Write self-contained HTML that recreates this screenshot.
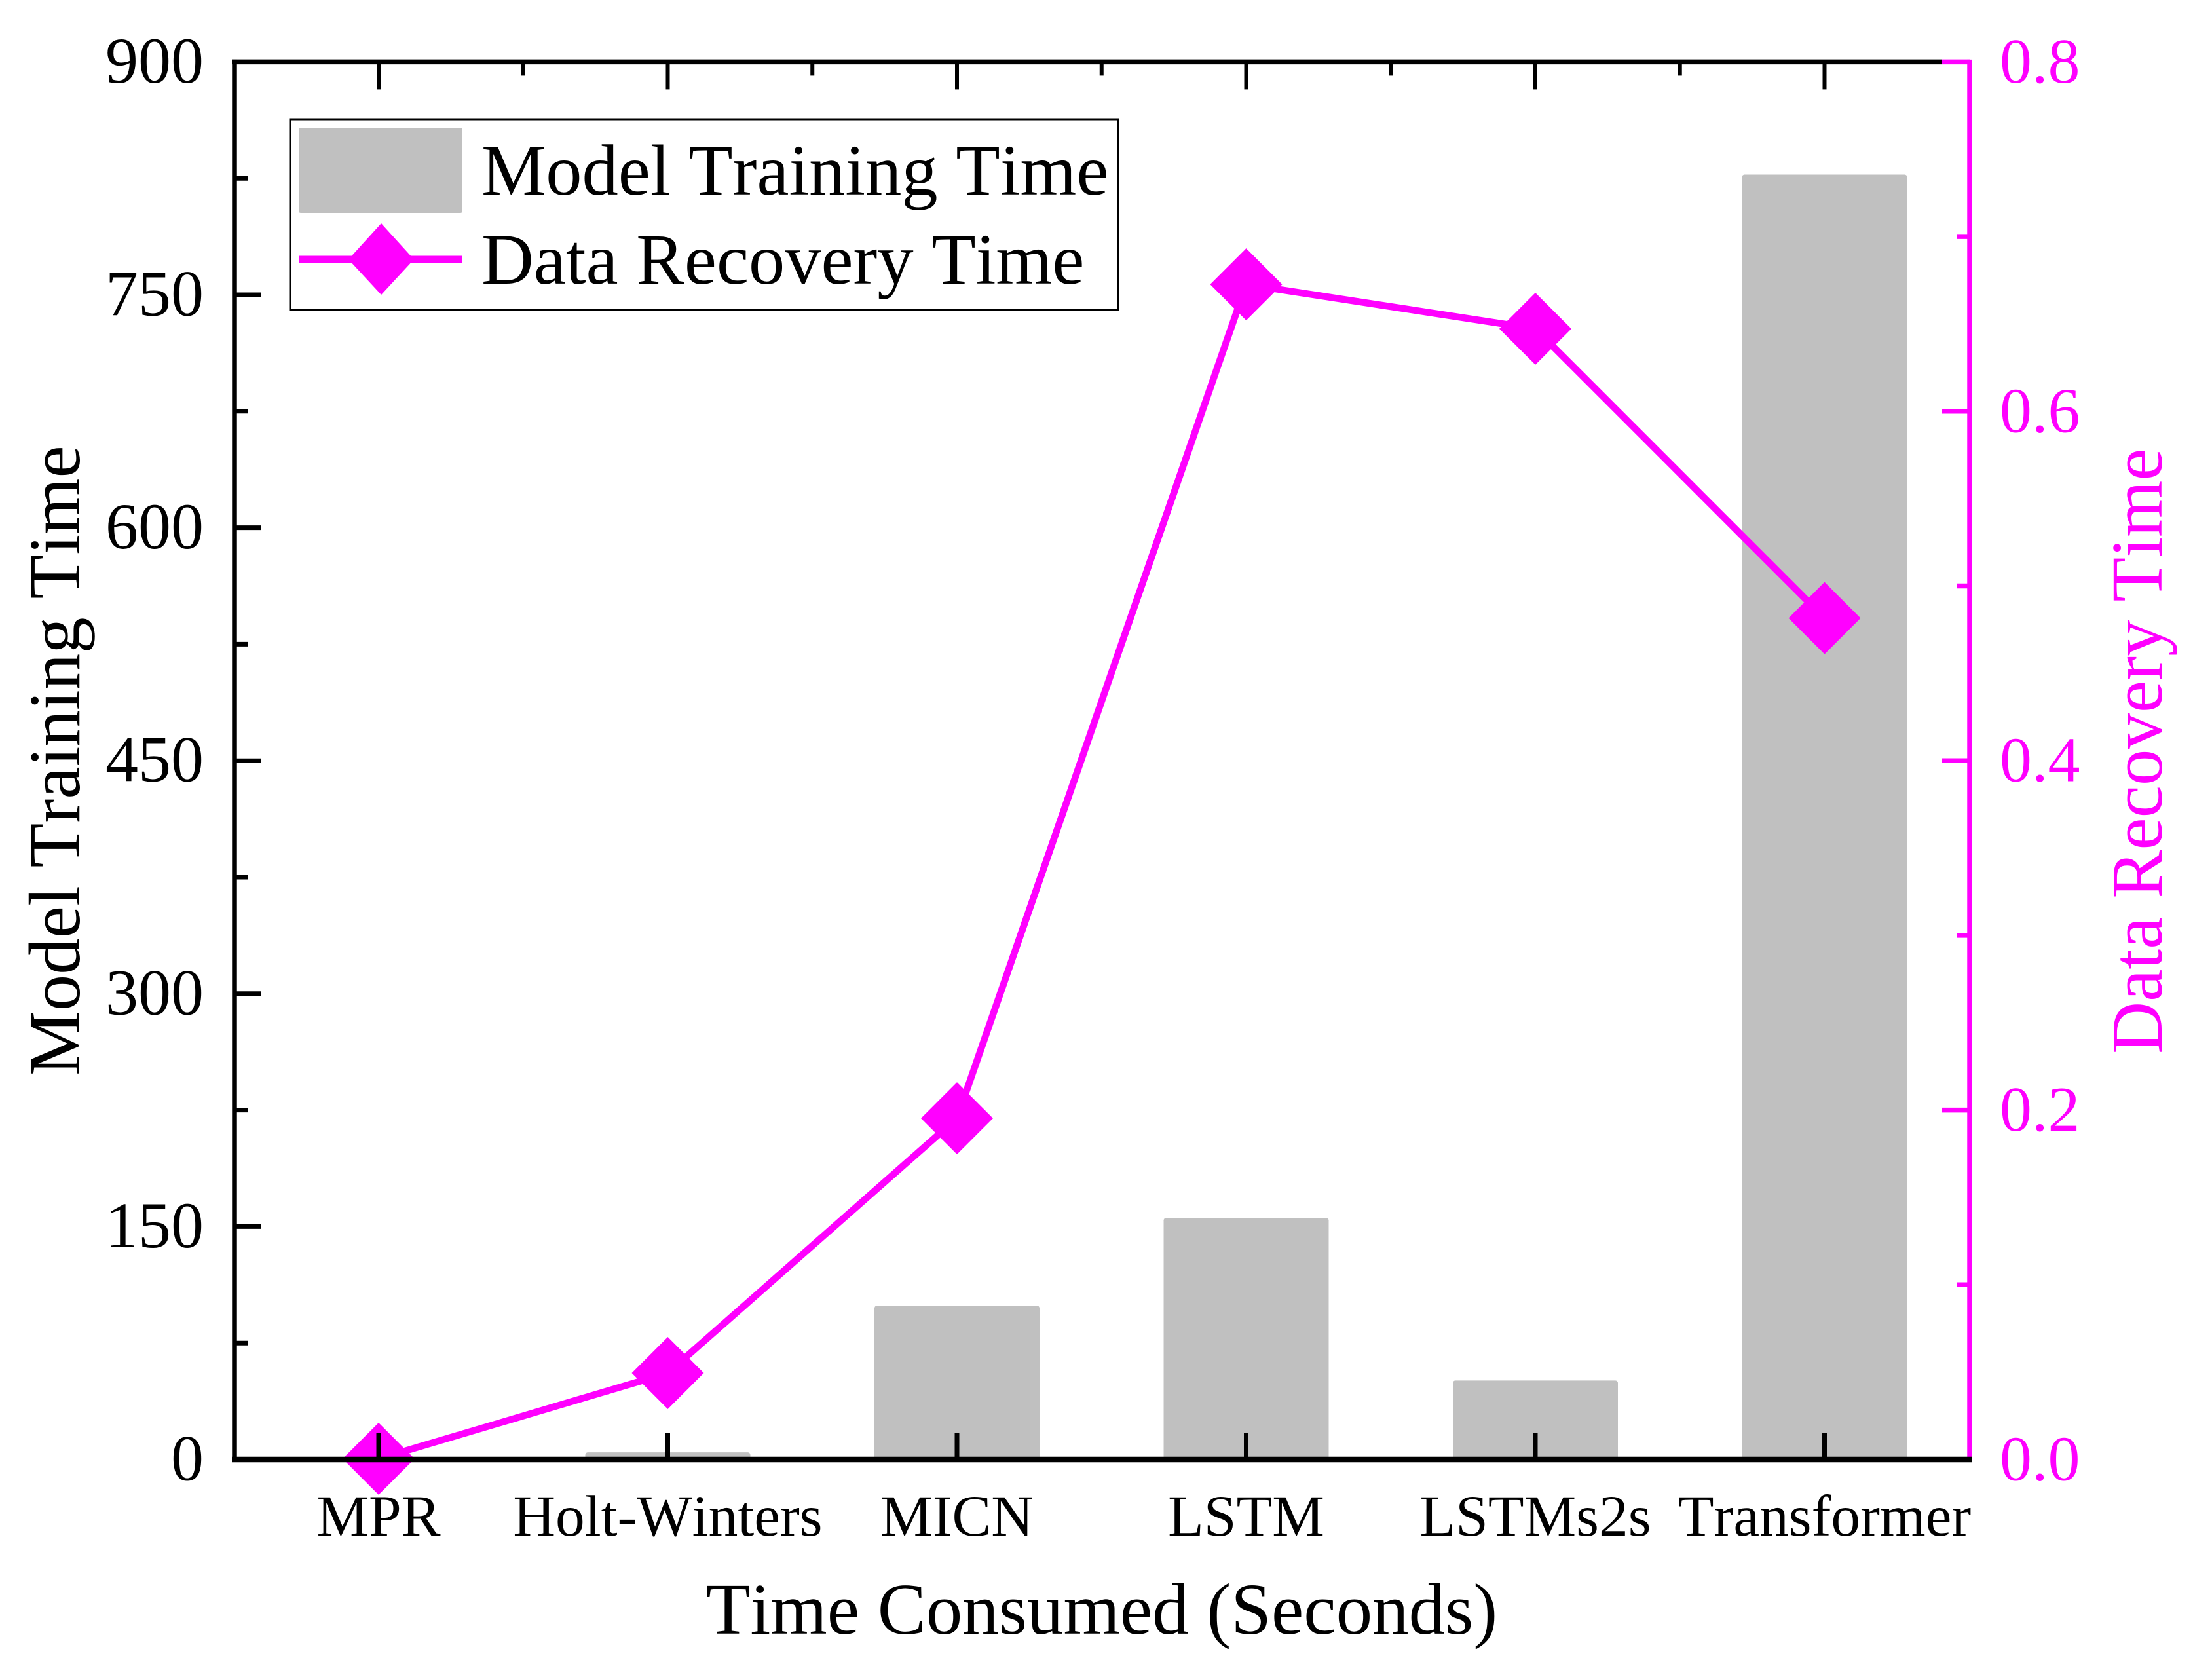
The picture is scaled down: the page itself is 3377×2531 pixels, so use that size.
<!DOCTYPE html>
<html lang="en">
<head>
<meta charset="utf-8">
<title>Model Training Time and Data Recovery Time</title>
<style>
html,body{margin:0;padding:0;background:#fff;}
svg{display:block;}
text{font-family:"Liberation Serif",serif;font-kerning:none;}
</style>
</head>
<body>
<svg id="chart" xmlns="http://www.w3.org/2000/svg" width="3377" height="2531" viewBox="0 0 3377 2531">
  <rect x="0" y="0" width="3377" height="2531" fill="#ffffff"/>
  <g id="bars"></g>
  <g id="series"></g>
  <g id="axes"></g>
  <g id="labels"></g>

  <text x="1682" y="2494" font-size="111" text-anchor="middle" fill="#000">Time Consumed (Seconds)</text>
  <text transform="translate(121,1642) rotate(-90)" font-size="111" fill="#000">Model Training Time</text>
  <text transform="translate(3300,1609) rotate(-90)" font-size="111" fill="#ff00ff">Data Recovery Time</text>

  <g>
    <rect x="443" y="182" width="1264" height="291" fill="#fff" stroke="#000" stroke-width="3"/>
    <rect x="456" y="195" width="250" height="130" rx="3" fill="#c0c0c0"/>
    <line x1="456" y1="396" x2="706" y2="396" stroke="#ff00ff" stroke-width="11"/>
    <polygon points="582,341 632,396 582,450 532,396" fill="#ff00ff"/>
    <text x="735" y="297" font-size="110.5" fill="#000">Model Training Time</text>
    <text x="735" y="433" font-size="110.5" fill="#000">Data Recovery Time</text>
  </g>
</svg>
<script>
const categories = ["MPR", "Holt-Winters", "MICN", "LSTM", "LSTMs2s", "Transformer"];
const trainingTimes = [1.5, 4.6, 99.1, 155.6, 50.9, 827.4];
const recoveryTimes = [0.0004, 0.0495, 0.1953, 0.6726, 0.6472, 0.4816];
const leftTickLabels = [0, 150, 300, 450, 600, 750, 900];
const leftMinorTicks = [75, 225, 375, 525, 675, 825];
const rightTickLabels = ["0.0", "0.2", "0.4", "0.6", "0.8"];
const rightMinorTicks = [0.1, 0.3, 0.5, 0.7];

const NS = "http://www.w3.org/2000/svg";
const plot = {left: 358, right: 3007, top: 94.4, bottom: 2228};
const leftMax = 900, rightMax = 0.8;
const firstX = 578, stepX = 441.5;
const barHalf = 126, markerRadius = 55;
const magenta = "#ff00ff", black = "#000000", grey = "#c0c0c0";

function xAt(i) { return firstX + stepX * i; }
function yLeft(v) { return plot.bottom - (v / leftMax) * (plot.bottom - plot.top); }
function yRight(v) { return plot.bottom - (v / rightMax) * (plot.bottom - plot.top); }

function make(tag, attrs, parent, txt) {
  const el = document.createElementNS(NS, tag);
  for (const k in attrs) el.setAttribute(k, attrs[k]);
  if (txt !== undefined) el.textContent = txt;
  parent.appendChild(el);
  return el;
}
function slug(s) { return String(s).toLowerCase().replace(/[^a-z0-9]+/g, "-"); }

const barsG = document.getElementById("bars");
const seriesG = document.getElementById("series");
const axesG = document.getElementById("axes");
const labelsG = document.getElementById("labels");

/* bars */
trainingTimes.forEach(function (v, i) {
  const top = yLeft(v);
  const el = make("rect", {x: xAt(i) - barHalf, y: top, width: barHalf * 2, height: plot.bottom - top, rx: 4, fill: grey}, barsG);
  
  
});

/* line */
const linePts = recoveryTimes.map(function (v, i) { return xAt(i) + "," + yRight(v); }).join(" ");
const polyline = make("polyline", {points: linePts, fill: "none", stroke: magenta, "stroke-width": 10.5, "stroke-linejoin": "round"}, seriesG);



/* markers */
recoveryTimes.forEach(function (v, i) {
  const cx = xAt(i), cy = yRight(v), r = markerRadius;
  const pts = [cx + "," + (cy - r), (cx + r) + "," + cy, cx + "," + (cy + r), (cx - r) + "," + cy].join(" ");
  const el = make("polygon", {points: pts, fill: magenta}, seriesG);
  
  
});

/* axis frame */
const topAxis = make("line", {x1: plot.left - 4, y1: plot.top, x2: plot.right - 42, y2: plot.top, stroke: black, "stroke-width": 7.5}, axesG);



const leftAxis = make("line", {x1: plot.left, y1: plot.top - 3.5, x2: plot.left, y2: plot.bottom + 4, stroke: black, "stroke-width": 7.5}, axesG);



const rightAxis = make("line", {x1: plot.right, y1: plot.top - 3.5, x2: plot.right, y2: plot.bottom, stroke: magenta, "stroke-width": 7.5}, axesG);



const bottomAxis = make("line", {x1: plot.left - 4, y1: plot.bottom, x2: plot.right + 4, y2: plot.bottom, stroke: black, "stroke-width": 8.5}, axesG);



/* x ticks and labels */
categories.forEach(function (c, i) {
  const x = xAt(i);
  const tb = make("line", {x1: x, y1: plot.bottom, x2: x, y2: plot.bottom - 41, stroke: black, "stroke-width": 7}, axesG);
  
  
  const tt = make("line", {x1: x, y1: plot.top, x2: x, y2: plot.top + 42, stroke: black, "stroke-width": 6}, axesG);
  
  
  if (i < categories.length - 1) {
    const tm = make("line", {x1: x + stepX / 2, y1: plot.top, x2: x + stepX / 2, y2: plot.top + 21, stroke: black, "stroke-width": 6}, axesG);
    
    
  }
  const lbl = make("text", {x: x, y: 2344, "font-size": 89.5, "text-anchor": "middle", fill: black}, labelsG, c);
  
  
});

/* left y ticks */
leftTickLabels.forEach(function (v) {
  const y = yLeft(v);
  if (v > 0 && v < leftMax) {
    const t = make("line", {x1: plot.left, y1: y, x2: 398, y2: y, stroke: black, "stroke-width": 7}, axesG);
    
    
  }
  const lbl = make("text", {x: 311, y: y + 31.5, "font-size": 100, "text-anchor": "end", fill: black}, labelsG, String(v));
  
  
});
leftMinorTicks.forEach(function (v) {
  const y = yLeft(v);
  const t = make("line", {x1: plot.left, y1: y, x2: 378, y2: y, stroke: black, "stroke-width": 7}, axesG);
  
  
});

/* right y ticks */
rightTickLabels.forEach(function (s) {
  const y = yRight(parseFloat(s));
  if (parseFloat(s) > 0) {
    const t = make("line", {x1: plot.right, y1: y, x2: 2965, y2: y, stroke: magenta, "stroke-width": 7.5}, axesG);
    
    
  }
  const lbl = make("text", {x: 3053, y: y + 31.5, "font-size": 98, fill: magenta}, labelsG, s);
  
  
});
rightMinorTicks.forEach(function (v) {
  const y = yRight(v);
  const t = make("line", {x1: plot.right, y1: y, x2: 2987, y2: y, stroke: magenta, "stroke-width": 7.5}, axesG);
  
  
});
</script>
</body>
</html>
